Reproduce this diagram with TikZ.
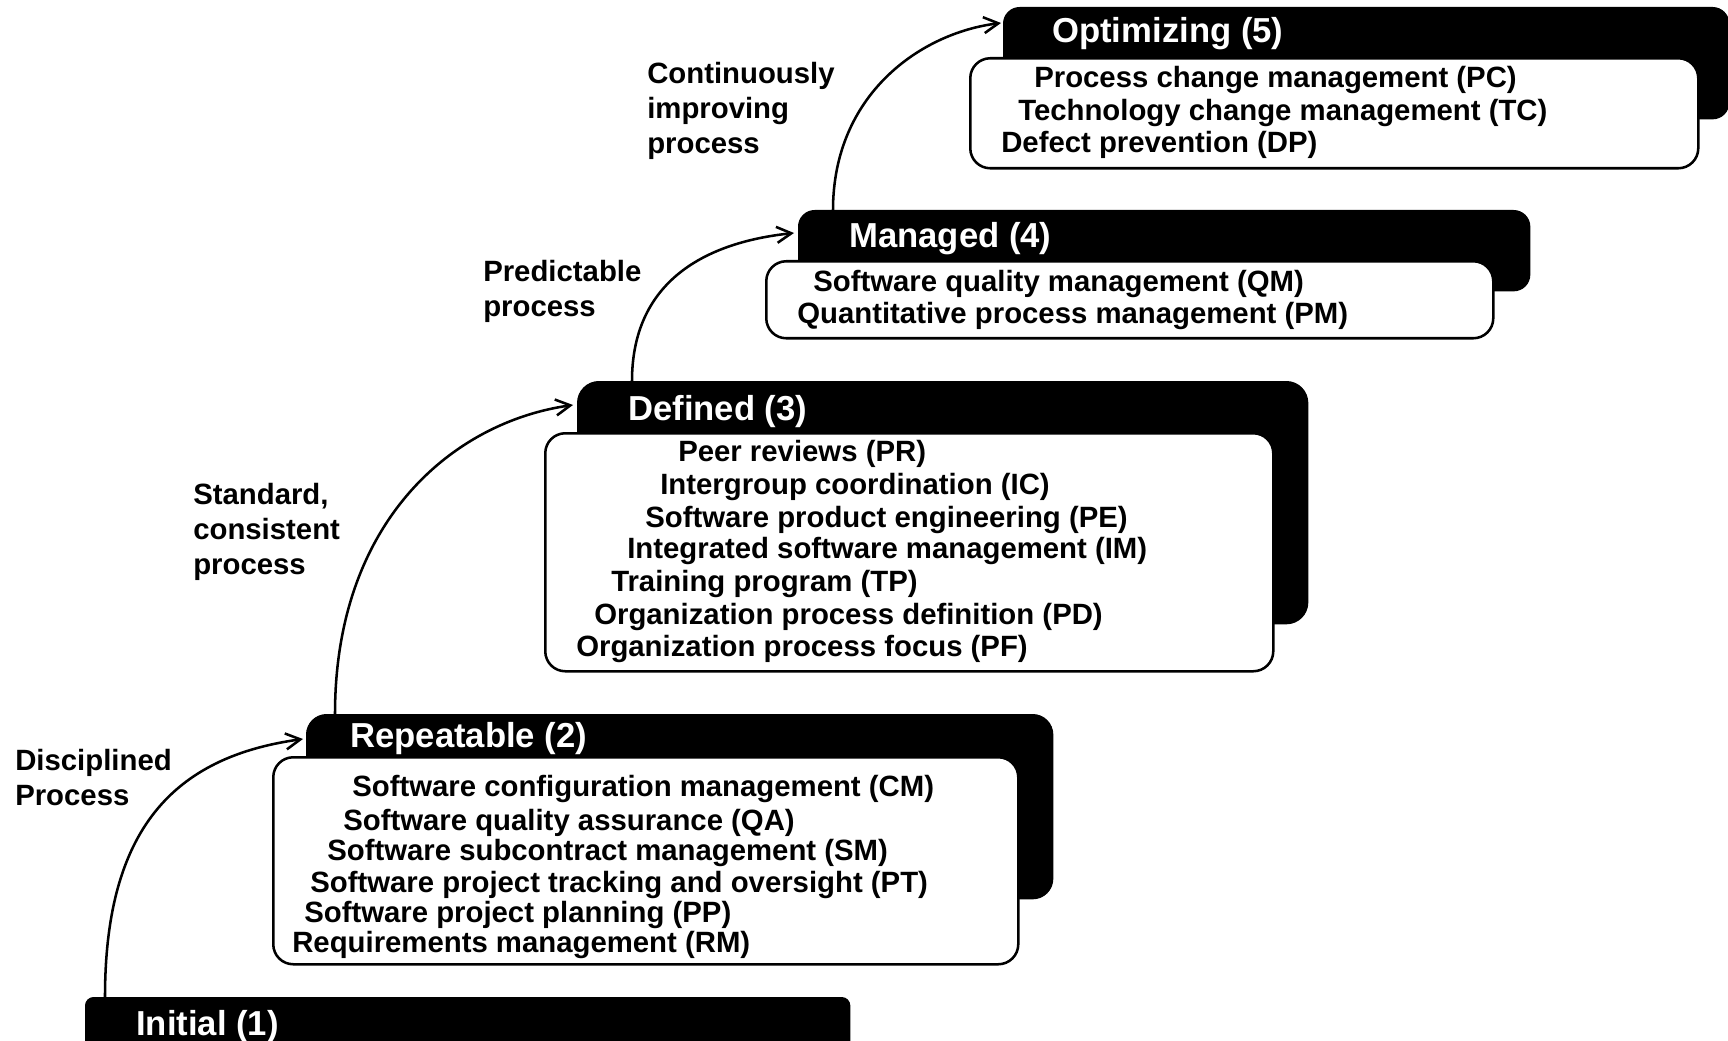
\documentclass[tikz,border=0pt]{standalone}
\usepackage{fontspec}
\setmainfont{Liberation Sans}
\usetikzlibrary{arrows.meta,calc}
\tikzset{
  blackbox/.style={fill=black, draw=black, line width=1pt, rounded corners=12pt, anchor=north west, inner sep=0pt},
  whitebox/.style={fill=white, draw=black, line width=1.9pt, rounded corners=15pt, anchor=north west, inner sep=0pt},
  title/.style={text=white, font=\bfseries\fontsize{26}{30}\selectfont, anchor=base west, inner sep=0pt},
  item/.style={font=\bfseries\fontsize{22}{26}\selectfont, anchor=base west, inner sep=0pt},
  lbl/.style={font=\bfseries\fontsize{22}{26}\selectfont, anchor=base west, inner sep=0pt},
  conn/.style={line width=1.9pt, -{Straight Barb[length=11pt,width=12pt,line width=1.9pt]}}
}
\begin{document}
\begin{tikzpicture}[x=0.75pt,y=0.75pt]
\clip (0,0) rectangle (1728,-1041);
\fill[white] (0,0) rectangle (1728,-1041);
% Level 5
\node[blackbox, minimum width=543.75pt, minimum height=83.25pt] (b5) at (1003,-7) {};
\node[whitebox, minimum width=546pt, minimum height=82.5pt] (w5) at (969,-57) {};
\node[title] (t5) at (1052,-42.4) {Optimizing (5)};
\node[item] (pc) at (1034,-87.5) {Process change management (PC)};
\node[item] (tc) at (1018,-120.5) {Technology change management (TC)};
\node[item] (dp) at (1001,-152.5) {Defect prevention (DP)};
% Level 4
\node[blackbox, minimum width=548.25pt, minimum height=60pt] (b4) at (798,-210) {};
\node[whitebox, minimum width=545.25pt, minimum height=57.75pt] (w4) at (765,-260) {};
\node[title] (t4) at (849,-247.4) {Managed (4)};
\node[item] (qm) at (813,-291.5) {Software quality management (QM)};
\node[item] (pm) at (797,-323.5) {Quantitative process management (PM)};
% Level 3
\node[blackbox, rounded corners=16pt, minimum width=547.5pt, minimum height=181.5pt] (b3) at (577,-381) {};
\node[whitebox, minimum width=546pt, minimum height=178.5pt] (w3) at (544,-432) {};
\node[title] (t3) at (628,-420.4) {Defined (3)};
\node[item] (pr) at (678,-461.5) {Peer reviews (PR)};
\node[item] (ic) at (660,-494.5) {Intergroup coordination (IC)};
\node[item] (pe) at (645,-527.5) {Software product engineering (PE)};
\node[item] (im) at (627,-558.5) {Integrated software management (IM)};
\node[item] (tp) at (611,-591.5) {Training program (TP)};
\node[item] (pd) at (594,-624.5) {Organization process definition (PD)};
\node[item] (pf) at (576,-656.5) {Organization process focus (PF)};
% Level 2
\node[blackbox, rounded corners=15pt, minimum width=559.5pt, minimum height=138pt] (b2) at (306,-714) {};
\node[whitebox, minimum width=558.75pt, minimum height=155.25pt] (w2) at (272,-756) {};
\node[title] (t2) at (350,-747.4) {Repeatable (2)};
\node[item] (cm) at (352,-796.5) {Software configuration management (CM)};
\node[item] (qa) at (343,-830.5) {Software quality assurance (QA)};
\node[item] (sm) at (327,-860.5) {Software subcontract management (SM)};
\node[item] (pt) at (310,-892.5) {Software project tracking and oversight (PT)};
\node[item] (pp) at (304,-922.5) {Software project planning (PP)};
\node[item] (rm) at (292,-952.5) {Requirements management (RM)};
% Level 1
\node[blackbox, rounded corners=6pt, minimum width=573pt, minimum height=60pt] (b1) at (85,-997) {};
\node[title] (t1) at (136,-1035.4) {Initial (1)};
% Labels
\node[lbl] (l1a) at (15,-770.5) {Disciplined};
\node[lbl] (l1b) at (15,-805.5) {Process};
\node[lbl] (l2a) at (193,-504.5) {Standard,};
\node[lbl] (l2b) at (193,-539.5) {consistent};
\node[lbl] (l2c) at (193,-574.5) {process};
\node[lbl] (l3a) at (483,-281.5) {Predictable};
\node[lbl] (l3b) at (483,-316.5) {process};
\node[lbl] (l4a) at (647,-83.5) {Continuously};
\node[lbl] (l4b) at (647,-118.5) {improving};
\node[lbl] (l4c) at (647,-153.5) {process};
% Connectors
\draw[conn] ($(b1.north west)+(20,0)$) .. controls ($(b1.north west)+(20,167)$) and ($(b2.north west)+(-133,-43)$) .. ($(b2.north west)+(-3,-25)$);
\draw[conn] ($(b2.north west)+(29,0)$) .. controls ($(b2.north west)+(29,193)$) and ($(b3.north west)+(-124,-41)$) .. ($(b3.north west)+(-4,-24)$);
\draw[conn] ($(b3.north west)+(55,0)$) .. controls ($(b3.north west)+(55,96)$) and ($(b4.north west)+(-98,-33)$) .. ($(b4.north west)+(-4,-23)$);
\draw[conn] ($(b4.north west)+(35,0)$) .. controls ($(b4.north west)+(35,115)$) and ($(b5.north west)+(-83,-26)$) .. ($(b5.north west)+(-2,-16)$);
\end{tikzpicture}
\end{document}
